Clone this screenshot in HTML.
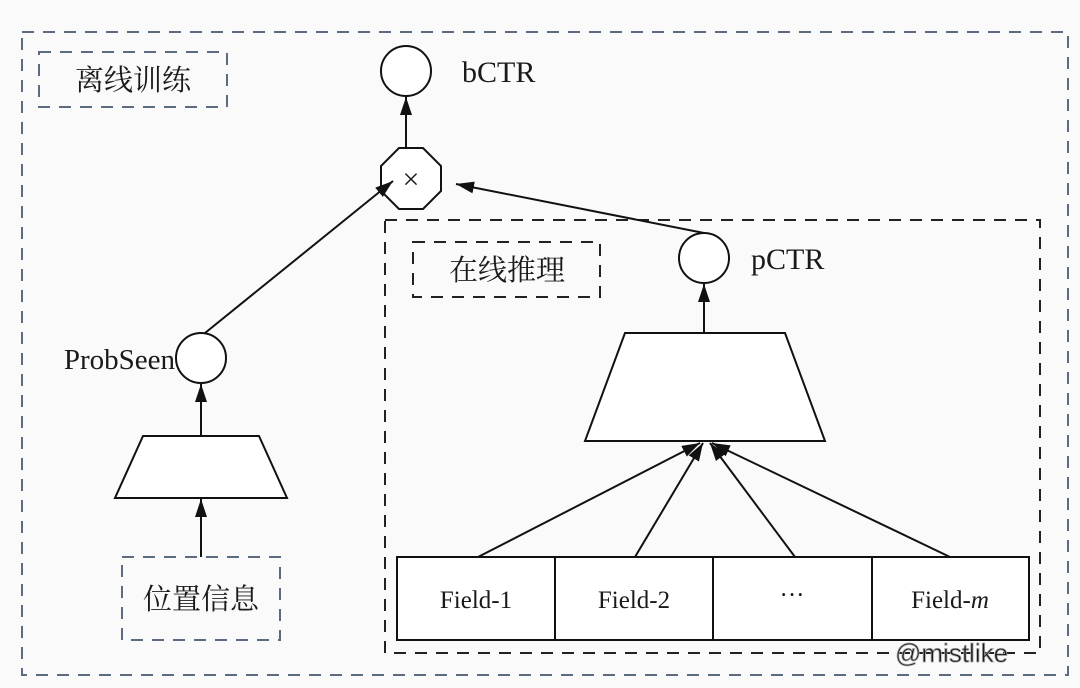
<!DOCTYPE html>
<html><head><meta charset="utf-8"><style>
html,body{margin:0;padding:0;background:#fafafa;}
svg{display:block}
text{font-family:"Liberation Serif","Noto Serif CJK SC",serif;fill:#1a1a1a}
</style></head><body>
<svg width="1080" height="688" viewBox="0 0 1080 688" xmlns="http://www.w3.org/2000/svg">
<defs>
<marker id="b" markerWidth="18" markerHeight="12" refX="18" refY="6" orient="auto" markerUnits="userSpaceOnUse" viewBox="0 0 18 12">
<path d="M0,0 L18,6 L0,12 z" fill="#111"/></marker>
</defs>
<rect width="1080" height="688" fill="#fafafa"/>
<g fill="none" stroke-width="2" stroke-dasharray="12,9">
<rect x="22" y="32" width="1046" height="643" stroke="#5d6b80"/>
<rect x="39" y="52" width="188" height="55" stroke="#5d6b80"/>
<rect x="122" y="557" width="158" height="83" stroke="#5d6b80"/>
<rect x="385" y="220" width="655" height="433" stroke="#222"/>
<rect x="413" y="242" width="187" height="55" stroke="#222"/>
</g>
<text x="133" y="90" font-size="29" text-anchor="middle">离线训练</text>
<text x="201" y="609" font-size="29" text-anchor="middle">位置信息</text>
<text x="507" y="280" font-size="29" text-anchor="middle">在线推理</text>
<g stroke="#111" stroke-width="2" fill="#fff">
<circle cx="406" cy="71" r="25"/>
<polygon points="399,148 423,148 441,166 441,191 423,209 399,209 381,191 381,166"/>
<circle cx="704" cy="258" r="25"/>
<circle cx="201" cy="358" r="25"/>
<polygon points="143,436 259,436 287,498 115,498"/>
<polygon points="625,333 785,333 825,441 585,441"/>
<rect x="397" y="557" width="632" height="83"/>
<line x1="555" y1="557" x2="555" y2="640"/>
<line x1="713" y1="557" x2="713" y2="640"/>
<line x1="872" y1="557" x2="872" y2="640"/>
</g>
<g stroke="#111" stroke-width="2" fill="none">
<line x1="406" y1="148" x2="406" y2="97" marker-end="url(#b)"/>
<line x1="205" y1="333" x2="393" y2="181" marker-end="url(#b)"/>
<line x1="704" y1="233" x2="456" y2="184" marker-end="url(#b)"/>
<line x1="704" y1="333" x2="704" y2="284" marker-end="url(#b)"/>
<line x1="201" y1="436" x2="201" y2="384" marker-end="url(#b)"/>
<line x1="201" y1="557" x2="201" y2="499" marker-end="url(#b)"/>
<line x1="478" y1="557" x2="700" y2="443" marker-end="url(#b)"/>
<line x1="635" y1="557" x2="703" y2="443" marker-end="url(#b)"/>
<line x1="795" y1="557" x2="710" y2="443" marker-end="url(#b)"/>
<line x1="950" y1="557" x2="712" y2="443" marker-end="url(#b)"/>
</g>
<text x="411" y="189" font-size="30" text-anchor="middle">×</text>
<text x="462" y="82" font-size="30">bCTR</text>
<text x="751" y="269" font-size="30">pCTR</text>
<text x="175" y="369" font-size="29" text-anchor="end">ProbSeen</text>
<text x="476" y="608" font-size="25" text-anchor="middle">Field-1</text>
<text x="634" y="608" font-size="25" text-anchor="middle">Field-2</text>
<text x="792" y="603" font-size="25" text-anchor="middle">···</text>
<text x="950" y="608" font-size="25" text-anchor="middle">Field-<tspan font-style="italic">m</tspan></text>
<text x="895" y="662" font-size="26" fill="#ffffff" stroke="#aaa" stroke-width="0.8" style="font-family:'Liberation Sans',sans-serif">@mistlike</text>
</svg>
</body></html>
